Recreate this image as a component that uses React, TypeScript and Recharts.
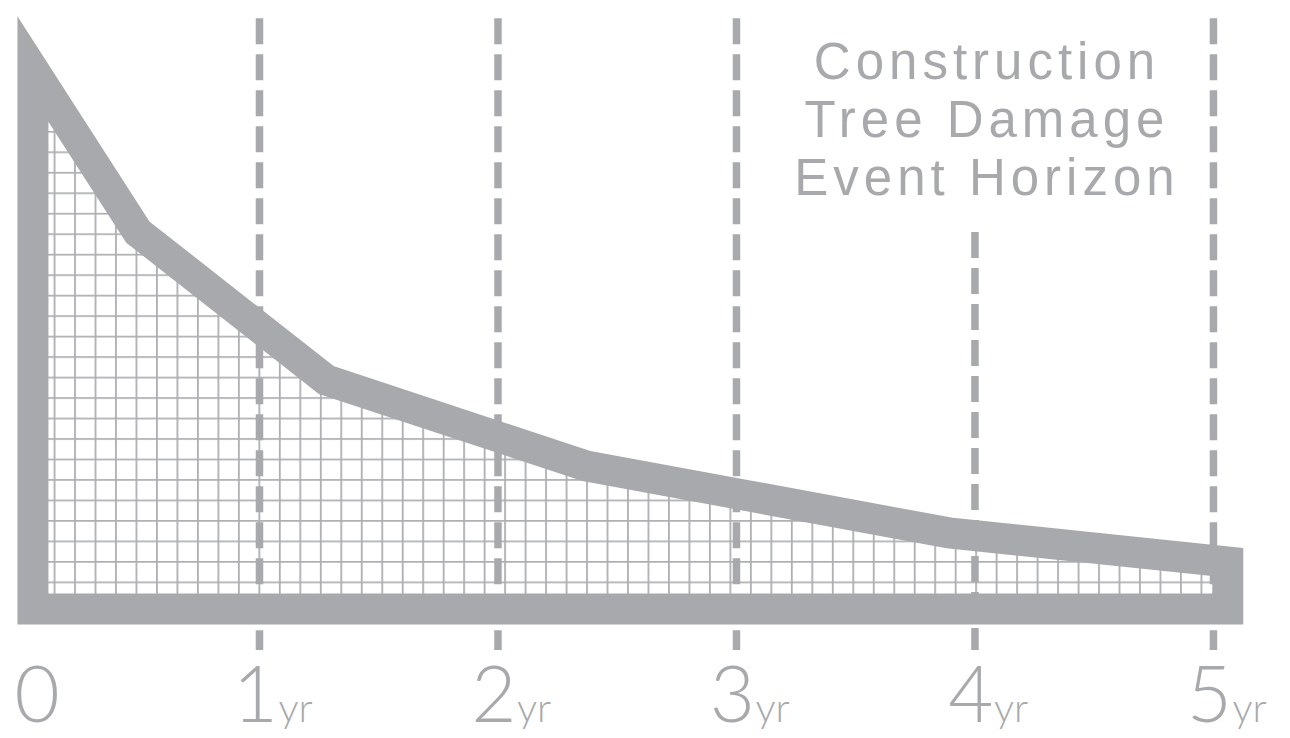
import React from 'react';
import { ComposedChart, Area, Line, XAxis, YAxis, ReferenceLine } from 'recharts';

// shape of the damage curve (x in years, y in % of the initial impact)
const curveYears = [0.05, 0.49, 1.28, 2.37, 3.89, 5.06];
const curveValues = [100, 69.8, 42.4, 26.5, 14.1, 8.7];

// axis ticks
const tickYears = [0, 1, 2, 3, 4, 5];
const tickNumbers = ['0', '1', '2', '3', '4', '5'];
const tickUnits = ['', 'yr', 'yr', 'yr', 'yr', 'yr'];

// dashed year markers: where each one starts and ends
const markerYears = [1, 2, 3, 4, 5];
const markerTops = [109.4, 109.4, 109.4, 69.8, 109.4];
const markerBottom = -7.6;

const titleLines = ['Construction', 'Tree Damage', 'Event Horizon'];

const GRAY = '#a7a9ac';
const GRID = '#adafb2';

// closed outline: bottom-left, up the wall, along the curve, down the right wall, back along the base
const outline = [
    { x: curveYears[0], v: 0 },
    ...curveYears.map((x, i) => ({ x, v: curveValues[i] })),
    { x: curveYears[curveYears.length - 1], v: 0 },
    { x: curveYears[0], v: 0 },
];

const numStyle = { fontFamily: 'Lato', fontWeight: 300, fontSize: 78 };
const unitStyle = { fontFamily: 'Lato', fontWeight: 300, fontSize: 40 };

const YearTick = (props: any) => {
    const { x, y, payload } = props;
    const i = tickYears.indexOf(payload.value);
    const base = y + 105;
    if (!tickUnits[i]) {
        return (
            <text x={x + 16} y={base} textAnchor="middle" fill={GRAY} style={numStyle}>
                {tickNumbers[i]}
            </text>
        );
    }
    return (
        <g>
            <text x={x - 4} y={base} textAnchor="middle" fill={GRAY} style={numStyle}>
                {tickNumbers[i]}
            </text>
            <text x={x + 19} y={base} textAnchor="start" fill={GRAY} style={unitStyle}>
                {tickUnits[i]}
            </text>
        </g>
    );
};

export default function App() {
    return (
        <div style={{ position: 'absolute', left: 0, top: 0, width: 1290, height: 738, background: '#fff' }}>
            <ComposedChart width={1290} height={738} data={outline}
                margin={{ top: 69, right: 5, bottom: 0, left: 21 }}>
                <defs>
                    <pattern id="grid" patternUnits="userSpaceOnUse" width={20.48} height={20.48}
                        x={74.1} y={458.6}>
                        <rect x={0} y={0} width={20.48} height={20.48} fill="#fff" />
                        <path d="M0.9 0V20.48M0 0.9H20.48" stroke={GRID} strokeWidth={1.8} fill="none" />
                    </pattern>
                </defs>
                <XAxis type="number" dataKey="x" domain={[0, 5.3]} ticks={tickYears} interval={0}
                    axisLine={false} tickLine={false} height={129} tick={<YearTick />} />
                <YAxis type="number" domain={[0, 100]} hide />
                <Area type="linear" dataKey="v" stroke="none" fill="url(#grid)" fillOpacity={1}
                    isAnimationActive={false} />
                {markerYears.map((yr, i) => (
                    <ReferenceLine key={yr} ifOverflow="visible"
                        segment={[{ x: yr, y: markerTops[i] }, { x: yr, y: markerBottom }]}
                        stroke={GRAY} strokeWidth={7.5} strokeDasharray="26 10" />
                ))}
                <Line type="linear" dataKey="v" stroke={GRAY} strokeWidth={31} dot={false}
                    activeDot={false} strokeLinejoin="miter" strokeLinecap="square"
                    isAnimationActive={false} />
                <text textAnchor="middle" fill={GRAY}
                    style={{ fontFamily: 'Liberation Sans', fontSize: 51, letterSpacing: 5 }}>
                    {titleLines.map((t, i) => (
                        <tspan key={t} x={987} y={79 + i * 58}>{t}</tspan>
                    ))}
                </text>
            </ComposedChart>
        </div>
    );
}
